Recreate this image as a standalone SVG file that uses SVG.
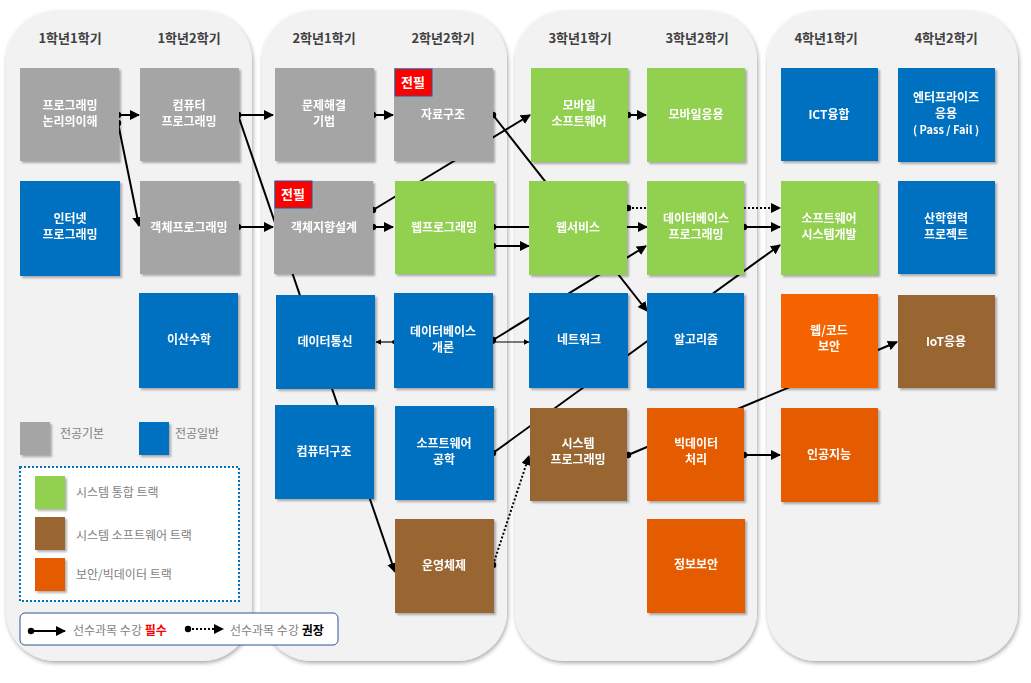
<svg xmlns="http://www.w3.org/2000/svg" width="1031" height="683" viewBox="0 0 1031 683">
<defs>
<filter id="sh" x="-10%" y="-10%" width="130%" height="130%"><feDropShadow dx="2" dy="2" stdDeviation="1.2" flood-color="#000" flood-opacity="0.3"/></filter>
<filter id="psh" x="-5%" y="-5%" width="110%" height="110%"><feDropShadow dx="1" dy="2" stdDeviation="2" flood-color="#000" flood-opacity="0.35"/></filter>
<marker id="ar" viewBox="0 0 10 10" refX="9" refY="5" markerWidth="5" markerHeight="5" orient="auto"><path d="M0,0 L10,5 L0,10 z" fill="#000"/></marker>
<marker id="dt" viewBox="0 0 10 10" refX="5" refY="5" markerWidth="4" markerHeight="4"><circle cx="5" cy="5" r="4" fill="#000"/></marker>
<style>
text{font-family:"Noto Sans CJK KR","Noto Sans",sans-serif;font-weight:bold;}
.n{font-size:12px;fill:#fff;text-anchor:middle;}
.h{font-size:13px;fill:#404040;text-anchor:middle;}
.lg{font-size:12px;fill:#7f7f7f;font-weight:normal;}
.g{fill:#a5a5a5}.b{fill:#0070c0}.gr{fill:#92d050}.br{fill:#996633}.o{fill:#e55c00}.o2{fill:#f56400}
.c{stroke:#000;stroke-width:2;fill:none;marker-start:url(#dt);marker-end:url(#ar)}
.t{stroke-width:1.2}
.d{stroke-dasharray:2 2}
</style>
</defs>
<g id="panels" fill="#f2f2f2" filter="url(#psh)">
<rect x="6" y="11" width="246" height="650" rx="50"/>
<rect x="262" y="11" width="245" height="650" rx="50"/>
<rect x="515" y="11" width="242" height="650" rx="50"/>
<rect x="767" y="11" width="251" height="650" rx="50"/>
</g>
<g id="headers">
<text class="h" x="70" y="43">1학년1학기</text>
<text class="h" x="189" y="43">1학년2학기</text>
<text class="h" x="324" y="43">2학년1학기</text>
<text class="h" x="443" y="43">2학년2학기</text>
<text class="h" x="580" y="43">3학년1학기</text>
<text class="h" x="697" y="43">3학년2학기</text>
<text class="h" x="826" y="43">4학년1학기</text>
<text class="h" x="946" y="43">4학년2학기</text>
</g>
<g id="connectors">
<line class="c" x1="118" y1="115" x2="139" y2="115"/>
<line class="c" x1="118" y1="123" x2="139" y2="226"/>
<line class="c" x1="238" y1="115" x2="273" y2="115"/>
<line class="c" x1="238" y1="115" x2="395" y2="572"/>
<line class="c" x1="238" y1="227" x2="273" y2="227"/>
<line class="c" x1="373" y1="115" x2="393" y2="115"/>
<line class="c" x1="493" y1="115" x2="647" y2="311"/>
<line class="c" x1="373" y1="210" x2="530" y2="115"/>
<line class="c" x1="373" y1="227" x2="393" y2="227"/>
<line class="c" x1="493" y1="227" x2="647" y2="227"/>
<line class="c" x1="493" y1="246" x2="529" y2="246"/>
<line class="c d" x1="628" y1="208" x2="780" y2="208"/>
<line class="c" x1="744" y1="227" x2="780" y2="227"/>
<line class="c" x1="628" y1="115" x2="646" y2="115"/>
<line class="c" x1="493" y1="340" x2="646" y2="246"/>
<line class="c t" x1="493" y1="342" x2="529" y2="342"/>
<line class="c t" x1="394" y1="342" x2="376" y2="342"/>
<line class="c" x1="493" y1="453" x2="780" y2="245"/>
<line class="c" x1="628" y1="455" x2="897" y2="342"/>
<line class="c d" x1="493" y1="565" x2="529" y2="456"/>
<line class="c" x1="744" y1="455" x2="780" y2="455"/>
</g>
<g filter="url(#sh)">
<g id="n1"><rect class="g" x="20" y="68" width="99" height="93"/><text class="n" x="70" y="110">프로그래밍</text><text class="n" x="70" y="126">논리의이해</text></g>
<g id="n2"><rect class="b" x="20" y="181" width="100" height="95"/><text class="n" x="70" y="223">인터넷</text><text class="n" x="70" y="239">프로그래밍</text></g>
<g id="n3"><rect class="g" x="140" y="68" width="99" height="93"/><text class="n" x="189" y="110">컴퓨터</text><text class="n" x="189" y="126">프로그래밍</text></g>
<g id="n4"><rect class="g" x="140" y="181" width="99" height="93"/><text class="n" x="189" y="232">객체프로그래밍</text></g>
<g id="n5"><rect class="b" x="139" y="293" width="99" height="95"/><text class="n" x="189" y="344">이산수학</text></g>
<g id="n6"><rect class="g" x="275" y="68" width="99" height="93"/><text class="n" x="324" y="110">문제해결</text><text class="n" x="324" y="126">기법</text></g>
<g id="n7"><rect class="g" x="274" y="181" width="99" height="93"/><text class="n" x="324" y="232">객체지향설계</text></g>
<g id="n8"><rect class="b" x="276" y="295" width="99" height="94"/><text class="n" x="325" y="346">데이터통신</text></g>
<g id="n9"><rect class="b" x="275" y="405" width="99" height="94"/><text class="n" x="324" y="456">컴퓨터구조</text></g>
<g id="n10"><rect class="g" x="394" y="68" width="99" height="93"/><text class="n" x="443" y="119">자료구조</text></g>
<g id="n11"><rect class="gr" x="395" y="181" width="99" height="93"/><text class="n" x="444" y="232">웹프로그래밍</text></g>
<g id="n12"><rect class="b" x="394" y="293" width="99" height="95"/><text class="n" x="443" y="336">데이터베이스</text><text class="n" x="443" y="352">개론</text></g>
<g id="n13"><rect class="b" x="395" y="406" width="99" height="94"/><text class="n" x="444" y="448">소프트웨어</text><text class="n" x="444" y="464">공학</text></g>
<g id="n14"><rect class="br" x="395" y="519" width="99" height="94"/><text class="n" x="444" y="570">운영체제</text></g>
<g id="n15"><rect class="gr" x="531" y="68" width="97" height="94"/><text class="n" x="579" y="110">모바일</text><text class="n" x="579" y="126">소프트웨어</text></g>
<g id="n16"><rect class="gr" x="529" y="181" width="98" height="94"/><text class="n" x="578" y="232">웹서비스</text></g>
<g id="n17"><rect class="b" x="529" y="293" width="99" height="95"/><text class="n" x="579" y="344">네트워크</text></g>
<g id="n18"><rect class="br" x="530" y="408" width="97" height="93"/><text class="n" x="578" y="448">시스템</text><text class="n" x="578" y="464">프로그래밍</text></g>
<g id="n19"><rect class="gr" x="647" y="68" width="98" height="94"/><text class="n" x="696" y="119">모바일응용</text></g>
<g id="n20"><rect class="gr" x="647" y="181" width="97" height="94"/><text class="n" x="696" y="223">데이터베이스</text><text class="n" x="696" y="239">프로그래밍</text></g>
<g id="n21"><rect class="b" x="647" y="293" width="97" height="95"/><text class="n" x="696" y="344">알고리즘</text></g>
<g id="n22"><rect class="o" x="647" y="408" width="97" height="93"/><text class="n" x="696" y="448">빅데이터</text><text class="n" x="696" y="464">처리</text></g>
<g id="n23"><rect class="o" x="647" y="519" width="98" height="94"/><text class="n" x="696" y="569">정보보안</text></g>
<g id="n24"><rect class="b" x="781" y="68" width="97" height="93"/><text class="n" x="829" y="119">ICT융합</text></g>
<g id="n25"><rect class="gr" x="781" y="181" width="97" height="94"/><text class="n" x="829" y="223">소프트웨어</text><text class="n" x="829" y="239">시스템개발</text></g>
<g id="n26"><rect class="o2" x="781" y="294" width="97" height="94"/><text class="n" x="829" y="335">웹/코드</text><text class="n" x="829" y="351">보안</text></g>
<g id="n27"><rect class="o" x="781" y="408" width="97" height="94"/><text class="n" x="829" y="459">인공지능</text></g>
<g id="n28"><rect class="b" x="898" y="68" width="97" height="94"/><text class="n" x="946" y="102">엔터프라이즈</text><text class="n" x="946" y="118">응용</text><text class="n" x="946" y="134" style="font-size:11px">( Pass / Fail )</text></g>
<g id="n29"><rect class="b" x="898" y="181" width="97" height="93"/><text class="n" x="946" y="223">산학협력</text><text class="n" x="946" y="239">프로젝트</text></g>
<g id="n30"><rect class="br" x="898" y="295" width="97" height="93"/><text class="n" x="946" y="346">IoT응용</text></g>
</g>
<g id="badges">
<rect x="395" y="69" width="37" height="27" fill="#ff0000" stroke="#2f5597" stroke-width="1"/><text x="413" y="87" fill="#fff" font-size="13" text-anchor="middle">전필</text>
<rect x="275" y="181" width="37" height="27" fill="#ff0000" stroke="#2f5597" stroke-width="1"/><text x="293" y="199" fill="#fff" font-size="13" text-anchor="middle">전필</text>
</g>
<g id="legend">
<rect class="g" x="20" y="422" width="30" height="33" filter="url(#sh)"/><text class="lg" x="60" y="438">전공기본</text>
<rect class="b" x="139" y="422" width="30" height="33" filter="url(#sh)"/><text class="lg" x="175" y="438">전공일반</text>
<rect x="20" y="467" width="219" height="134" fill="#fff" stroke="#0070c0" stroke-width="2" stroke-dasharray="2 2"/>
<rect class="gr" x="35" y="476" width="30" height="33" filter="url(#sh)"/><text class="lg" x="76" y="497">시스템 통합 트랙</text>
<rect class="br" x="35" y="517" width="30" height="33" filter="url(#sh)"/><text class="lg" x="76" y="540">시스템 소프트웨어 트랙</text>
<rect class="o" x="35" y="558" width="30" height="33" filter="url(#sh)"/><text class="lg" x="76" y="579">보안/빅데이터 트랙</text>
<rect x="20" y="613" width="318" height="32" rx="5" fill="#fff" stroke="#2f5597" stroke-width="1"/>
<line class="c" x1="31" y1="631" x2="65" y2="631"/>
<text class="lg" x="73" y="635">선수과목 수강 <tspan fill="#ff0000" font-weight="bold">필수</tspan></text>
<line class="c d" x1="188" y1="629" x2="223" y2="629"/>
<text class="lg" x="230" y="635">선수과목 수강 <tspan fill="#000" font-weight="bold">권장</tspan></text>
</g>
</svg>
